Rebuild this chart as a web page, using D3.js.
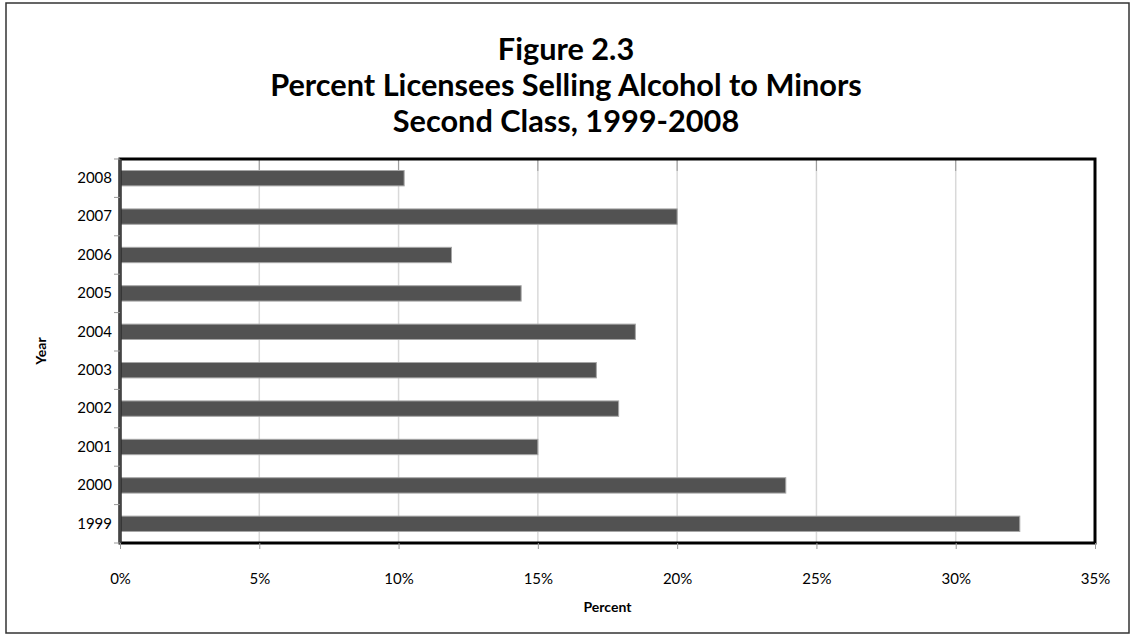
<!DOCTYPE html>
<html>
<head>
<meta charset="utf-8">
<script src="https://cdn.jsdelivr.net/npm/d3@7"></script>
<style>
  body { margin: 0; background: #fff; }
  text { font-family: Lato, "Open Sans", sans-serif; }
</style>
</head>
<body>
<div class="chart"></div>
<script>
var years = ["2008","2007","2006","2005","2004","2003","2002","2001","2000","1999"]
var percents = [10.2, 20.0, 11.9, 14.4, 18.5, 17.1, 17.9, 15.0, 23.9, 32.3]
var xTicks = [0, 5, 10, 15, 20, 25, 30, 35]
var titleLines = ["Figure 2.3", "Percent Licensees Selling Alcohol to Minors", "Second Class, 1999-2008"]

var svg = d3.select(".chart")
    .append("svg")
    .attr("width", 1132)
    .attr("height", 644)

// outer frame
svg.append("rect")
    .attr("x", 6)
    .attr("y", 3)
    .attr("width", 1123)
    .attr("height", 630)
    .style("fill", "none")
    .style("stroke", "#333")
    .style("stroke-width", 1.5)

var plotLeft = 120, plotRight = 1095, plotTop = 159, plotBottom = 543

var x = d3.scaleLinear().domain([0, 35]).range([plotLeft, plotRight])
var y = d3.scaleBand().domain(years).range([plotTop, plotBottom]).paddingInner(0.6).paddingOuter(0.3)

// title
titleLines.forEach((t, i) => {
    svg.append("text")
        .attr("x", 566)
        .attr("y", 60 + i * 36)
        .attr("text-anchor", "middle")
        .text(t)
        .style("font-size", "30.7px")
        .style("font-weight", "bold")
        .attr("fill", "#000")
})

// gridlines
svg.append("g")
    .selectAll("line")
    .data(xTicks.slice(1, -1))
    .join("line")
    .attr("x1", d => x(d))
    .attr("x2", d => x(d))
    .attr("y1", plotTop)
    .attr("y2", plotBottom)
    .style("stroke", "#d9d9d9")
    .style("stroke-width", 1.5)

svg.append("g")
    .selectAll("line")
    .data(xTicks.slice(1, -1))
    .join("line")
    .attr("x1", d => x(d))
    .attr("x2", d => x(d))
    .attr("y1", plotTop)
    .attr("y2", plotTop + 12)
    .style("stroke", "#999")
    .style("stroke-width", 1)

// bars
svg.append("g")
    .selectAll("rect")
    .data(years)
    .join("rect")
    .attr("x", x(0))
    .attr("y", d => y(d))
    .attr("width", (d, i) => x(percents[i]) - x(0))
    .attr("height", y.bandwidth())
    .style("fill", "#525252")
    .style("stroke", "#a6a6a6")
    .style("stroke-width", 1)

// plot border
svg.append("rect")
    .attr("x", plotLeft)
    .attr("y", plotTop)
    .attr("width", plotRight - plotLeft)
    .attr("height", plotBottom - plotTop)
    .style("fill", "none")
    .style("stroke", "#000")
    .style("stroke-width", 3)

svg.append("line")
    .attr("x1", plotLeft)
    .attr("x2", plotLeft)
    .attr("y1", plotTop)
    .attr("y2", plotBottom)
    .style("stroke", "#444")
    .style("stroke-width", 3)

// x axis
var xAxis = d3.axisBottom(x)
    .tickValues(xTicks)
    .tickFormat(d => d + "%")
    .tickSize(6)
    .tickPadding(24)

var gx = svg.append("g")
    .attr("transform", "translate(0," + plotBottom + ")")
    .call(xAxis)
gx.select(".domain").remove()
gx.selectAll("line").style("stroke", "#999")
gx.selectAll("text").style("font-size", "15px").attr("fill", "#000").style("font-family", "Lato, sans-serif")

// y axis
var yAxis = d3.axisLeft(y)
    .tickSize(0)
    .tickPadding(8)

var gy = svg.append("g")
    .attr("transform", "translate(" + plotLeft + ",0)")
    .call(yAxis)
gy.select(".domain").remove()
gy.selectAll("text").style("font-size", "15px").attr("fill", "#000").style("font-family", "Lato, sans-serif")

// y ticks at band boundaries
var bounds = years.map((d, i) => plotTop + i * (plotBottom - plotTop) / years.length)
bounds.push(plotBottom)
svg.append("g")
    .selectAll("line")
    .data(bounds)
    .join("line")
    .attr("x1", plotLeft - 6)
    .attr("x2", plotLeft)
    .attr("y1", d => d)
    .attr("y2", d => d)
    .style("stroke", "#999")

// axis titles
svg.append("text")
    .attr("x", (plotLeft + plotRight) / 2)
    .attr("y", 612)
    .attr("text-anchor", "middle")
    .text("Percent")
    .style("font-size", "14px")
    .style("font-weight", "bold")

svg.append("text")
    .attr("transform", "translate(46," + (plotTop + plotBottom) / 2 + ") rotate(-90)")
    .attr("text-anchor", "middle")
    .text("Year")
    .style("font-size", "14px")
    .style("font-weight", "bold")
</script>
</body>
</html>
